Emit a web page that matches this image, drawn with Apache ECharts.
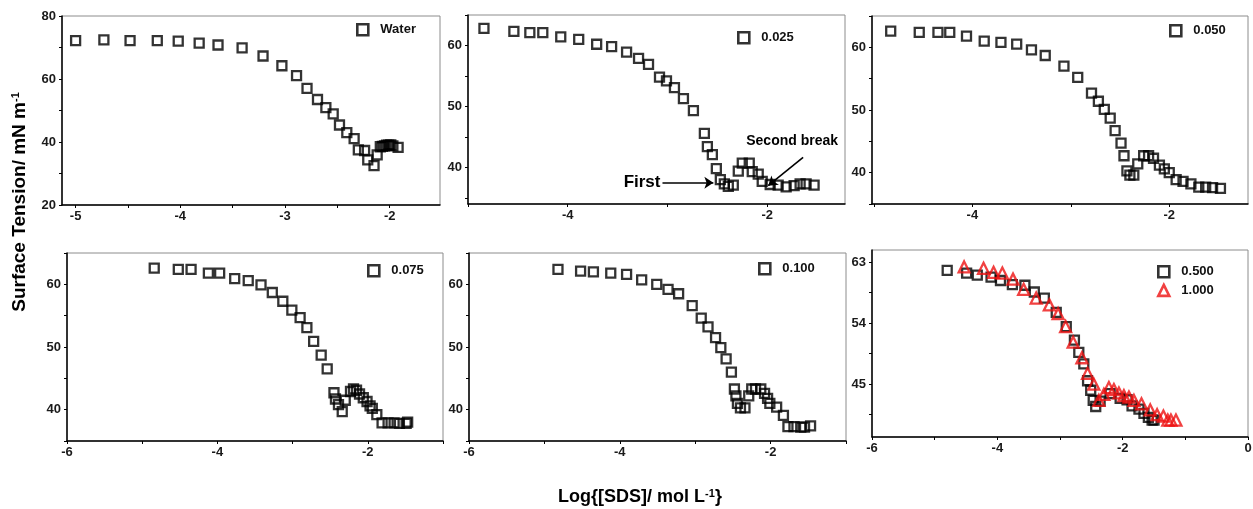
<!DOCTYPE html>
<html>
<head>
<meta charset="utf-8">
<script src="https://cdn.jsdelivr.net/npm/echarts@6/dist/echarts.min.js"></script>
<style>
html,body{margin:0;padding:0;background:#fff;}
#chart{width:1253px;height:509px;}
</style>
</head>
<body>
<div id="chart"></div>
<script>
// ---------- DATA ----------
const waterX = [-5.0,-4.73,-4.48,-4.22,-4.02,-3.82,-3.64,-3.41,-3.21,-3.03,-2.89,-2.79,-2.69,-2.61,-2.54,-2.48,-2.41,-2.34,-2.30,-2.24,-2.21,-2.15,-2.12,-2.09,-2.07,-2.05,-2.03,-2.01,-1.99,-1.97,-1.92];
const waterY = [72.2,72.4,72.2,72.2,72.0,71.4,70.8,69.9,67.3,64.2,61.1,57.0,53.5,50.9,48.9,45.4,43.0,41.1,37.5,37.3,34.3,32.5,35.9,38.5,38.6,38.8,39.0,39.0,39.1,38.8,38.3];

const p025X = [-4.84,-4.54,-4.38,-4.25,-4.07,-3.89,-3.71,-3.56,-3.41,-3.29,-3.19,-3.08,-3.01,-2.93,-2.84,-2.74,-2.63,-2.60,-2.55,-2.51,-2.47,-2.43,-2.39,-2.34,-2.29,-2.25,-2.18,-2.15,-2.09,-2.05,-1.97,-1.89,-1.81,-1.73,-1.67,-1.61,-1.53];
const p025Y = [62.8,62.3,62.1,62.1,61.4,61.0,60.2,59.8,58.9,57.9,56.9,54.8,54.2,53.1,51.3,49.3,45.6,43.4,42.1,39.8,38.0,37.3,36.9,37.1,39.4,40.7,40.7,39.3,38.9,37.7,37.2,37.1,36.8,37.0,37.3,37.3,37.1];

const p050X = [-4.83,-4.54,-4.35,-4.23,-4.06,-3.88,-3.71,-3.55,-3.40,-3.26,-3.07,-2.93,-2.79,-2.72,-2.66,-2.60,-2.55,-2.49,-2.46,-2.43,-2.40,-2.36,-2.32,-2.26,-2.21,-2.16,-2.10,-2.05,-2.00,-1.93,-1.86,-1.78,-1.70,-1.63,-1.56,-1.48];
const p050Y = [62.6,62.4,62.4,62.4,61.8,61.0,60.8,60.5,59.6,58.7,57.0,55.2,52.7,51.4,50.1,48.7,46.7,44.7,42.7,40.3,39.6,39.6,41.4,42.7,42.7,42.3,41.2,40.6,40.0,38.9,38.6,38.2,37.7,37.7,37.6,37.5];

const p075X = [-4.84,-4.52,-4.35,-4.12,-3.97,-3.77,-3.59,-3.42,-3.27,-3.13,-3.01,-2.90,-2.81,-2.72,-2.62,-2.54,-2.45,-2.43,-2.39,-2.34,-2.30,-2.23,-2.19,-2.15,-2.11,-2.06,-2.01,-1.97,-1.94,-1.88,-1.81,-1.73,-1.65,-1.58,-1.49,-1.47];
const p075Y = [62.6,62.4,62.4,61.8,61.8,60.9,60.6,59.9,58.7,57.3,55.9,54.7,53.1,50.9,48.7,46.5,42.7,41.7,40.8,39.7,41.5,42.9,43.3,43.1,42.5,41.9,41.3,40.6,40.2,39.2,37.9,37.9,37.9,37.8,37.8,38.0];

const p100X = [-4.82,-4.52,-4.35,-4.12,-3.91,-3.71,-3.51,-3.36,-3.22,-3.04,-2.92,-2.83,-2.73,-2.66,-2.59,-2.52,-2.48,-2.46,-2.44,-2.40,-2.34,-2.29,-2.25,-2.20,-2.13,-2.08,-2.04,-2.01,-1.92,-1.83,-1.77,-1.69,-1.60,-1.55,-1.47];
const p100Y = [62.4,62.1,62.0,61.8,61.6,60.7,60.0,59.2,58.5,56.6,54.6,53.2,51.5,49.9,48.1,46.0,43.3,42.2,41.0,40.3,40.3,42.2,43.3,43.3,43.3,42.6,41.8,41.0,40.4,39.1,37.3,37.3,37.2,37.2,37.4];

const p500X = [-4.80,-4.49,-4.32,-4.10,-3.95,-3.76,-3.56,-3.41,-3.25,-3.06,-2.90,-2.77,-2.70,-2.62,-2.56,-2.51,-2.47,-2.43,-2.36,-2.20,-2.04,-1.93,-1.85,-1.74,-1.66,-1.59,-1.53,-1.50];
const p500Y = [61.8,61.4,61.1,60.8,60.3,59.7,59.6,58.6,57.7,55.6,53.5,51.5,49.7,48.0,45.5,44.1,42.6,41.7,42.5,43.6,42.9,42.7,41.8,41.3,40.7,40.1,39.7,39.7];

const p1000X = [-4.53,-4.22,-4.06,-3.92,-3.75,-3.58,-3.38,-3.17,-3.03,-2.91,-2.79,-2.65,-2.56,-2.46,-2.38,-2.30,-2.22,-2.14,-2.06,-1.98,-1.90,-1.82,-1.70,-1.56,-1.45,-1.35,-1.28,-1.23,-1.15];
const p1000Y = [62.3,62.1,61.5,61.4,60.5,59.0,57.7,56.7,55.4,53.5,51.2,48.9,46.6,45.0,42.6,43.5,44.5,44.2,43.7,43.3,43.1,42.6,42.1,41.2,40.5,40.3,39.7,39.7,39.7];

const seriesNames = ['Water','0.025','0.050','0.075','0.100','0.500','1.000'];

// axis ranges & tick labels
const xRanges = [[-5.13,-1.52],[-5.0,-1.22],[-5.02,-1.2],[-6,-1],[-6,-1],[-6,0]];
const yRanges = [[20,80],[34,65],[35,65],[35,65],[35,65],[37.2,64.8]];
const xLabelVals = [[-5,-4,-3,-2],[-4,-2],[-4,-2],[-6,-4,-2],[-6,-4,-2],[-6,-4,-2,0]];
const xTickVals = [[-5,-4.5,-4,-3.5,-3,-2.5,-2,-1.5],[-5,-4,-3,-2],[-5,-4,-3,-2],[-6,-5,-4,-3,-2,-1],[-6,-5,-4,-3,-2,-1],[-6,-5,-4,-3,-2,-1,0]];
const yLabelVals = [[20,40,60,80],[40,50,60],[40,50,60],[40,50,60],[40,50,60],[45,54,63]];
const yTickVals = [[20,30,40,50,60,70,80],[35,40,45,50,55,60,65],[35,40,45,50,55,60,65],[35,40,45,50,55,60,65],[35,40,45,50,55,60,65],[40.5,45,49.5,54,58.5,63]];

// annotations in panel "0.025" (data coords)
const firstArrow = [[-3.05,37.5],[-2.54,37.5]];
const secondArrow = [[-1.64,41.65],[-1.99,37.0]];
const firstLabelPos = [-3.07,37.5];
const secondLabelPos = [-1.75,44.3];

// ---------- LAYOUT ----------
const FONT = '"Liberation Sans", Arial, Helvetica, sans-serif';
const gridBoxes = [
  {left:62, top:16, width:378, height:189},
  {left:468, top:15, width:377, height:189},
  {left:872, top:16, width:376, height:188},
  {left:67, top:253, width:376, height:188},
  {left:469, top:253, width:377, height:188},
  {left:872, top:250, width:376, height:187}
];
const legendPos = [
  {left:356, top:23}, {left:737, top:31}, {left:1169, top:24},
  {left:367, top:264}, {left:758, top:262}, {left:1157, top:265}
];

function zip(xs, ys){ return xs.map((x,i)=>[x, ys[i]]); }

const grid = gridBoxes.map(g => Object.assign({
  show:true, borderColor:'#8c8c8c', borderWidth:1, backgroundColor:'transparent',
  containLabel:false, outerBoundsMode:'none'
}, g));

const labelStyle = {fontFamily:FONT, fontWeight:'bold', fontSize:13, color:'#1a1a1a'};

const xAxis = xRanges.map((r,i)=>({
  type:'value', gridIndex:i, min:r[0], max:r[1],
  axisLine:{show:true, onZero:false, lineStyle:{color:'#000', width:1.5}},
  axisTick:{show:true, inside:false, length:3, customValues:xTickVals[i], lineStyle:{color:'#000', width:1}},
  axisLabel:Object.assign({customValues:xLabelVals[i], margin:5}, labelStyle),
  splitLine:{show:false}
}));
const yAxis = yRanges.map((r,i)=>({
  type:'value', gridIndex:i, min:r[0], max:r[1],
  axisLine:{show:true, onZero:false, lineStyle:{color:'#000', width:1.5}},
  axisTick:{show:true, inside:false, length:3, customValues:yTickVals[i], lineStyle:{color:'#000', width:1}},
  axisLabel:Object.assign({customValues:yLabelVals[i], margin:6}, labelStyle),
  splitLine:{show:false}
}));

const squareStyle = {color:'rgba(0,0,0,0)', borderColor:'#000', borderWidth:2.3};
const triStyle = {color:'rgba(0,0,0,0)', borderColor:'#ee1111', borderWidth:2.3};

function sq(name, idx, xs, ys){
  return {name, type:'scatter', xAxisIndex:idx, yAxisIndex:idx, symbol:'rect', symbolSize:9,
    itemStyle:squareStyle, data:zip(xs,ys), silent:true};
}

const series = [
  sq('Water',0,waterX,waterY),
  Object.assign(sq('0.025',1,p025X,p025Y), {
    markLine:{silent:true, symbol:['none','arrow'], symbolSize:9, animation:false,
      lineStyle:{color:'#000', width:1.6, type:'solid'}, label:{show:false},
      itemStyle:{color:'#000'},
      data:[
        [{coord:firstArrow[0]},{coord:firstArrow[1]}],
        [{coord:secondArrow[0]},{coord:secondArrow[1]}]
      ]}
  }),
  sq('0.050',2,p050X,p050Y),
  sq('0.075',3,p075X,p075Y),
  sq('0.100',4,p100X,p100Y),
  sq('0.500',5,p500X,p500Y),
  {name:'1.000', type:'scatter', xAxisIndex:5, yAxisIndex:5, symbol:'triangle', symbolSize:11,
    itemStyle:triStyle, data:zip(p1000X,p1000Y), silent:true}
];

const legendText = {fontFamily:FONT, fontWeight:'bold', fontSize:13, color:'#111', padding:[0,0,0,7]};
const legend = [
  ['Water'],['0.025'],['0.050'],['0.075'],['0.100'],['0.500','1.000']
].map((names,i)=>Object.assign({
  data:names, orient:'vertical', itemWidth:11, itemHeight:11, itemGap:5,
  itemStyle:{borderWidth:2.6},
  textStyle:legendText, selectedMode:false, padding:0
}, legendPos[i]));

const chart = echarts.init(document.getElementById('chart'), null, {renderer:'canvas'});
chart.setOption({
  backgroundColor:'#fff', animation:false,
  grid, xAxis, yAxis, series, legend
});

const p1 = chart.convertToPixel({gridIndex:1}, firstLabelPos);
const p2 = chart.convertToPixel({gridIndex:1}, secondLabelPos);

chart.setOption({
  graphic:{elements:[
    {type:'text', x:20, y:202, rotation:Math.PI/2,
      style:{text:'Surface Tension/ mN m{s|-1}', fontFamily:FONT, fontWeight:'bold', fontSize:19, fill:'#000',
        align:'center', verticalAlign:'middle',
        rich:{s:{fontFamily:FONT, fontWeight:'bold', fontSize:11, fill:'#000', verticalAlign:'top', lineHeight:12}}}},
    {type:'text', x:640, y:497,
      style:{text:'Log{[SDS]/ mol L{s|-1}}', fontFamily:FONT, fontWeight:'bold', fontSize:18, fill:'#000',
        align:'center', verticalAlign:'middle',
        rich:{s:{fontFamily:FONT, fontWeight:'bold', fontSize:11, fill:'#000', verticalAlign:'top', lineHeight:12}}}},
    {type:'text', x:p1[0], y:p1[1],
      style:{text:'First', fontFamily:FONT, fontWeight:'bold', fontSize:17, fill:'#000', align:'right', verticalAlign:'middle'}},
    {type:'text', x:p2[0], y:p2[1],
      style:{text:'Second break', fontFamily:FONT, fontWeight:'bold', fontSize:14, fill:'#000', align:'center', verticalAlign:'middle'}}
  ]}
});
</script>
</body>
</html>
